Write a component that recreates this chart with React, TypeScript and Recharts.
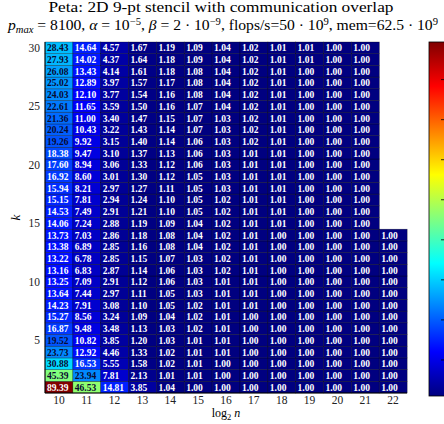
import React from 'react';
import { BarChart, Bar, XAxis, YAxis } from 'recharts';

// speedup values per column (log2 n), read top row first: k = 30 down to k = 1
const n10 = [28.43, 27.93, 26.08, 25.02, 24.03, 22.61, 21.36, 20.24, 19.26, 18.38, 17.60, 16.92, 15.94, 15.15, 14.53, 14.06, 13.73, 13.38, 13.22, 13.16, 13.25, 13.64, 14.23, 15.27, 16.87, 19.52, 23.73, 30.88, 45.39, 89.39];
const n11 = [14.64, 14.02, 13.43, 12.89, 12.10, 11.65, 11.00, 10.43, 9.92, 9.47, 8.94, 8.60, 8.21, 7.81, 7.49, 7.24, 7.03, 6.89, 6.78, 6.83, 7.09, 7.44, 7.91, 8.56, 9.48, 10.82, 12.92, 16.53, 23.94, 46.53];
const n12 = [4.57, 4.37, 4.14, 3.97, 3.77, 3.59, 3.40, 3.22, 3.15, 3.10, 3.06, 3.01, 2.97, 2.94, 2.91, 2.88, 2.86, 2.85, 2.85, 2.87, 2.91, 2.97, 3.08, 3.24, 3.48, 3.85, 4.46, 5.55, 7.81, 14.81];
const n13 = [1.67, 1.64, 1.61, 1.57, 1.54, 1.50, 1.47, 1.43, 1.40, 1.37, 1.33, 1.30, 1.27, 1.24, 1.21, 1.19, 1.18, 1.16, 1.15, 1.14, 1.12, 1.11, 1.10, 1.09, 1.13, 1.20, 1.33, 1.58, 2.13, 3.85];
const n14 = [1.19, 1.18, 1.18, 1.17, 1.16, 1.16, 1.15, 1.14, 1.14, 1.13, 1.12, 1.12, 1.11, 1.10, 1.10, 1.09, 1.08, 1.08, 1.07, 1.06, 1.06, 1.05, 1.05, 1.04, 1.03, 1.03, 1.02, 1.02, 1.01, 1.04];
const n15 = [1.09, 1.09, 1.08, 1.08, 1.08, 1.07, 1.07, 1.07, 1.06, 1.06, 1.06, 1.05, 1.05, 1.05, 1.05, 1.04, 1.04, 1.04, 1.03, 1.03, 1.03, 1.03, 1.02, 1.02, 1.02, 1.01, 1.01, 1.01, 1.01, 1.00];
const n16 = [1.04, 1.04, 1.04, 1.04, 1.04, 1.04, 1.03, 1.03, 1.03, 1.03, 1.03, 1.03, 1.03, 1.02, 1.02, 1.02, 1.02, 1.02, 1.02, 1.02, 1.01, 1.01, 1.01, 1.01, 1.01, 1.01, 1.01, 1.00, 1.00, 1.00];
const n17 = [1.02, 1.02, 1.02, 1.02, 1.02, 1.02, 1.02, 1.02, 1.02, 1.01, 1.01, 1.01, 1.01, 1.01, 1.01, 1.01, 1.01, 1.01, 1.01, 1.01, 1.01, 1.01, 1.01, 1.00, 1.00, 1.00, 1.00, 1.00, 1.00, 1.00];
const n18 = [1.01, 1.01, 1.01, 1.01, 1.01, 1.01, 1.01, 1.01, 1.01, 1.01, 1.01, 1.01, 1.01, 1.01, 1.01, 1.01, 1.00, 1.00, 1.00, 1.00, 1.00, 1.00, 1.00, 1.00, 1.00, 1.00, 1.00, 1.00, 1.00, 1.00];
const n19 = [1.01, 1.01, 1.00, 1.00, 1.00, 1.00, 1.00, 1.00, 1.00, 1.00, 1.00, 1.00, 1.00, 1.00, 1.00, 1.00, 1.00, 1.00, 1.00, 1.00, 1.00, 1.00, 1.00, 1.00, 1.00, 1.00, 1.00, 1.00, 1.00, 1.00];
const n20 = [1.00, 1.00, 1.00, 1.00, 1.00, 1.00, 1.00, 1.00, 1.00, 1.00, 1.00, 1.00, 1.00, 1.00, 1.00, 1.00, 1.00, 1.00, 1.00, 1.00, 1.00, 1.00, 1.00, 1.00, 1.00, 1.00, 1.00, 1.00, 1.00, 1.00];
const n21 = [1.00, 1.00, 1.00, 1.00, 1.00, 1.00, 1.00, 1.00, 1.00, 1.00, 1.00, 1.00, 1.00, 1.00, 1.00, 1.00, 1.00, 1.00, 1.00, 1.00, 1.00, 1.00, 1.00, 1.00, 1.00, 1.00, 1.00, 1.00, 1.00, 1.00];
const n22 = [null, null, null, null, null, null, null, null, null, null, null, null, null, null, null, null, 1.00, 1.00, 1.00, 1.00, 1.00, 1.00, 1.00, 1.00, 1.00, 1.00, 1.00, 1.00, 1.00, 1.00];

const nValues = [10, 11, 12, 13, 14, 15, 16, 17, 18, 19, 20, 21, 22];
const kTicks = [5, 10, 15, 20, 25, 30];
const colorbarTicks = [10, 20, 30, 40, 50, 60, 70, 80];

const columns: (number | null)[][] = [n10, n11, n12, n13, n14, n15, n16, n17, n18, n19, n20, n21, n22];
const kCount = n10.length;
const allVals = columns.flat().filter((v): v is number => v != null);
const vMin = Math.min(...allVals);
const vMax = Math.max(...allVals);

const jetAt = (t: number) => {
  const c = (s: number) => Math.round(255 * Math.max(0, Math.min(1, 1.5 - Math.abs(4 * t - s))));
  return `rgb(${c(3)},${c(2)},${c(1)})`;
};
const jet = (v: number) => jetAt((v - vMin) / (vMax - vMin));

// each column stacks kCount unit cells; missing values leave the cell empty
const data = nValues.map((n, i) => {
  const row: Record<string, number | null> = { n };
  for (let k = 1; k <= kCount; k++) row['k' + k] = columns[i][kCount - k] == null ? null : 1;
  return row;
});

const serif = '"Liberation Serif", "DejaVu Serif", serif';

const cellShape = (k: number) => (p: any) => {
  const v = columns[p.index]?.[kCount - k];
  if (v == null || !p.height) return <g />;
  const dark = v > 19 && v < 80;
  return (
    <g>
      <rect x={p.x} y={p.y} width={p.width} height={p.height} fill={jet(v)} stroke="#000" strokeOpacity={0.5} strokeWidth={0.6} />
      <text x={p.x + 2} y={p.y + p.height / 2 + 0.5} dominantBaseline="central" fontSize={9.5} fontWeight="bold" fontFamily={serif} fill={dark ? '#0a0a30' : '#fff'}>
        {v.toFixed(2)}
      </text>
    </g>
  );
};

const XLabel = (props: any) => {
  const vb = props.viewBox;
  return (
    <text x={vb.x + vb.width / 2} y={vb.y + 24} textAnchor="middle" fontSize={12} fontFamily={serif} fill="#000">
      log<tspan fontSize={8.5} dy={3}>2</tspan>
      <tspan dy={-3} fontStyle="italic"> n</tspan>
    </text>
  );
};

const YLabel = (props: any) => {
  const vb = props.viewBox;
  const cx = 20;
  const cy = vb.y + vb.height / 2;
  return (
    <text x={cx} y={cy} transform={`rotate(-90 ${cx} ${cy})`} textAnchor="middle" fontSize={13} fontStyle="italic" fontFamily={serif} fill="#000">
      k
    </text>
  );
};

const cbTop = 42;
const cbBottom = 396;
const cbY = (v: number) => cbBottom - ((v - vMin) / (vMax - vMin)) * (cbBottom - cbTop);
const gradStops = [0, 0.125, 0.25, 0.375, 0.5, 0.625, 0.75, 0.875, 1];

const App = () => {
  return (
    <div style={{ position: 'absolute', left: 0, top: 0, width: 444, height: 424, background: '#fff' }}>
      <BarChart
        width={444}
        height={424}
        data={data}
        margin={{ top: 42, right: 37, bottom: 0, left: 0 }}
        barCategoryGap={0}
        barGap={0}
        style={{ position: 'absolute', left: 0, top: 0 }}
      >
        <XAxis
          dataKey="n"
          type="category"
          height={31}
          tickLine={false}
          tickSize={1}
          axisLine={{ stroke: '#000' }}
          tick={{ fontSize: 11.5, fontFamily: serif, fill: '#222' }}
          label={<XLabel />}
        />
        <XAxis xAxisId="top" dataKey="n" orientation="top" height={0} tick={false} tickLine={false} axisLine={{ stroke: '#000' }} />
        <YAxis
          type="number"
          domain={[0, kCount]}
          ticks={kTicks.map((k) => k - 0.5)}
          tickFormatter={(v: number) => String(v + 0.5)}
          width={45}
          tickLine={false}
          tickSize={3}
          axisLine={{ stroke: '#000' }}
          tick={{ fontSize: 11.5, fontFamily: serif, fill: '#222' }}
          label={<YLabel />}
        />
        <YAxis yAxisId="right" orientation="right" type="number" domain={[0, kCount]} width={0} tick={false} tickLine={false} axisLine={{ stroke: '#000' }} />
        {Array.from({ length: kCount }, (_, j) => j + 1).map((k) => (
          <Bar key={k} dataKey={'k' + k} stackId="cells" isAnimationActive={false} shape={cellShape(k)} />
        ))}
      </BarChart>
      <svg width={444} height={424} style={{ position: 'absolute', left: 0, top: 0, pointerEvents: 'none' }}>
        <defs>
          <linearGradient id="jetbar" x1="0" y1="1" x2="0" y2="0">
            {gradStops.map((t) => (
              <stop key={t} offset={t} stopColor={jetAt(t)} />
            ))}
          </linearGradient>
        </defs>
        <text x={221} y={11.5} textAnchor="middle" fontSize={14} fontFamily={serif} fill="#000" textLength={345} lengthAdjust="spacingAndGlyphs">
          Peta: 2D 9-pt stencil with communication overlap
        </text>
        <text x={223} y={29.5} textAnchor="middle" fontSize={14} fontFamily={serif} fill="#000" textLength={430} lengthAdjust="spacingAndGlyphs">
          <tspan fontStyle="italic">p</tspan>
          <tspan fontStyle="italic" fontSize={9.5} dy={3}>max</tspan>
          <tspan dy={-3}> = 8100, </tspan>
          <tspan fontStyle="italic">α</tspan>
          <tspan> = 10</tspan>
          <tspan fontSize={9.5} dy={-5}>−5</tspan>
          <tspan dy={5}>, </tspan>
          <tspan fontStyle="italic">β</tspan>
          <tspan> = 2 · 10</tspan>
          <tspan fontSize={9.5} dy={-5}>−9</tspan>
          <tspan dy={5}>, flops/s=50 · 10</tspan>
          <tspan fontSize={9.5} dy={-5}>9</tspan>
          <tspan dy={5}>, mem=62.5 · 10</tspan>
          <tspan fontSize={9.5} dy={-5}>9</tspan>
        </text>
        <rect x={429} y={cbTop} width={16} height={cbBottom - cbTop} fill="url(#jetbar)" stroke="#000" strokeWidth={0.8} />
        {colorbarTicks.map((v) => (
          <line key={v} x1={441} x2={445} y1={cbY(v)} y2={cbY(v)} stroke="#000" strokeWidth={0.8} />
        ))}
      </svg>
    </div>
  );
};

export default App;
